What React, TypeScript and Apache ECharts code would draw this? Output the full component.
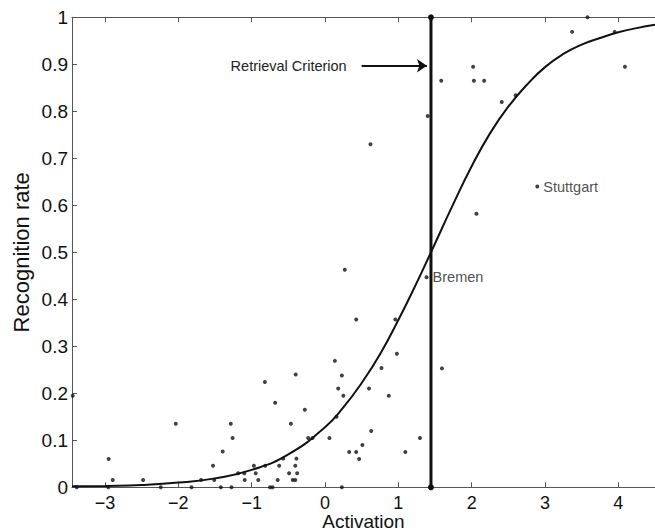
import React, { useEffect, useRef } from "react";
import * as echarts from "echarts";

const FONT = "'Liberation Sans', Arial, Helvetica, sans-serif";

// Scatter observations [activation, recognition rate]
const points: [number, number][] = [
  [3.58, 1.0], [3.37, 0.969], [3.95, 0.969], [2.02, 0.895], [4.09, 0.895],
  [1.585, 0.865], [2.03, 0.865], [2.17, 0.865], [2.41, 0.82], [2.6, 0.834],
  [1.4, 0.79], [0.62, 0.73], [2.065, 0.582], [0.27, 0.463],
  [0.425, 0.357], [0.96, 0.357], [0.98, 0.284], [0.135, 0.269], [1.595, 0.253],
  [0.77, 0.254], [0.23, 0.238], [0.18, 0.21], [0.6, 0.21], [0.25, 0.195],
  [0.87, 0.195], [0.157, 0.15], [0.63, 0.12], [0.06, 0.105], [1.295, 0.105],
  [0.51, 0.09], [0.33, 0.075], [0.425, 0.075], [1.095, 0.075], [0.465, 0.06],
  [0.23, 0.0],
  [-1.527, 0.046], [-1.51, 0.0155], [-1.42, 0.0], [-1.395, 0.076], [-1.285, 0.135],
  [-1.26, 0.105], [-1.275, 0.0], [-1.185, 0.03], [-1.1, 0.03], [-1.095, 0.0155],
  [-0.97, 0.046], [-0.945, 0.03], [-0.91, 0.0155], [-0.82, 0.224], [-0.815, 0.046],
  [-0.75, 0.0], [-0.715, 0.0], [-0.68, 0.18], [-0.645, 0.0155], [-0.625, 0.046],
  [-0.57, 0.061], [-0.49, 0.03], [-0.465, 0.135], [-0.44, 0.0155], [-0.405, 0.0155],
  [-0.405, 0.046], [-0.39, 0.061], [-0.38, 0.03], [-0.4, 0.24], [-0.275, 0.165],
  [-0.23, 0.105], [-0.17, 0.105],
  [-3.44, 0.195], [-2.95, 0.06], [-2.895, 0.0155], [-2.955, 0.0], [-3.385, 0.0],
  [-2.48, 0.0155], [-2.24, 0.0], [-2.035, 0.135], [-1.82, 0.0], [-1.69, 0.0155],
];

// Named points
const labeledNames = ["Bremen", "Stuttgart"];
const labeledX = [1.385, 2.895];
const labeledY = [0.447, 0.64];

// Fitted curve
const curveX = [-3.45, -3, -2.5, -2, -1.5, -1, -0.5, 0, 0.25, 0.5, 0.75, 1, 1.25, 1.445,
  1.75, 2, 2.25, 2.5, 2.75, 3, 3.25, 3.5, 3.75, 4, 4.25, 4.5];
const curveY = [0.002, 0.003, 0.005, 0.01, 0.019, 0.037, 0.07, 0.128, 0.17, 0.222, 0.283,
  0.356, 0.435, 0.5, 0.603, 0.683, 0.753, 0.81, 0.856, 0.894, 0.922, 0.942, 0.956, 0.968,
  0.977, 0.984];

// Retrieval criterion
const criterion = 1.445;
const arrowStartX = 0.5;
const arrowEndX = 1.39;
const arrowY = 0.897;

const X_MIN = -3.45;
const X_MAX = 4.5;

export default function App() {
  const ref = useRef<HTMLDivElement>(null);
  useEffect(() => {
    if (!ref.current) return;
    const chart = echarts.init(ref.current, undefined, { renderer: "svg" });
    const axisColor = "#555";
    const option: any = {
      animation: false,
      backgroundColor: "#fff",
      textStyle: { fontFamily: FONT },
      grid: {
        left: 72,
        top: 17.3,
        right: 0,
        bottom: 44.7,
        containLabel: false,
        outerBoundsMode: "none",
      },
      xAxis: [
        {
          type: "value",
          min: X_MIN,
          max: X_MAX,
          splitNumber: 8,
          position: "bottom",
          name: "Activation",
          nameLocation: "middle",
          nameGap: 25,
          nameMoveOverlap: false,
          nameTextStyle: { fontSize: 19, lineHeight: 19, color: "#111", fontFamily: FONT },
          axisLine: { show: true, onZero: false, lineStyle: { color: axisColor, width: 1 } },
          axisTick: { show: true, inside: true, length: 5, lineStyle: { color: axisColor } },
          axisLabel: {
            fontSize: 18,
            lineHeight: 18,
            color: "#111",
            margin: 7,
            fontFamily: FONT,
            showMinLabel: false,
            showMaxLabel: false,
            formatter: (v: number) => (v < 0 ? "\u2212" + Math.abs(v) : String(v)),
          },
          splitLine: { show: false },
        },
        {
          type: "value",
          min: X_MIN,
          max: X_MAX,
          splitNumber: 8,
          position: "top",
          axisLine: { show: true, onZero: false, lineStyle: { color: axisColor, width: 1 } },
          axisTick: { show: true, inside: true, length: 5, lineStyle: { color: axisColor } },
          axisLabel: { show: false },
          splitLine: { show: false },
        },
      ],
      yAxis: {
        type: "value",
        min: 0,
        max: 1,
        interval: 0.1,
        name: "Recognition rate",
        nameLocation: "middle",
        nameGap: 40,
        nameMoveOverlap: false,
        nameTextStyle: { fontSize: 22, color: "#111", fontFamily: FONT },
        axisLine: { show: true, onZero: false, lineStyle: { color: axisColor, width: 1 } },
        axisTick: { show: true, inside: true, length: 5, lineStyle: { color: axisColor } },
        axisLabel: { fontSize: 19, color: "#111", margin: 4, fontFamily: FONT },
        splitLine: { show: false },
      },
      series: [
        {
          type: "line",
          data: curveX.map((x, i) => [x, curveY[i]]),
          smooth: true,
          showSymbol: false,
          symbol: "none",
          lineStyle: { color: "#111", width: 2 },
          silent: true,
          z: 3,
          markLine: {
            silent: true,
            symbol: ["none", "arrow"],
            symbolSize: 10,
            lineStyle: { color: "#111", width: 2, type: "solid" },
            label: {
              show: true,
              position: "start",
              distance: 15,
              formatter: "Retrieval Criterion",
              fontSize: 14.5,
              color: "#222",
              fontFamily: FONT,
            },
            data: [[{ coord: [arrowStartX, arrowY] }, { coord: [arrowEndX, arrowY] }]],
          },
        },
        {
          type: "line",
          data: [[criterion, 0], [criterion, 1]],
          symbol: "circle",
          symbolSize: 6,
          showSymbol: true,
          lineStyle: { color: "#111", width: 3 },
          itemStyle: { color: "#111" },
          silent: true,
          z: 4,
        },
        {
          type: "scatter",
          data: points,
          symbol: "circle",
          symbolSize: 4,
          itemStyle: { color: "#111" },
          silent: true,
          z: 5,
        },
        {
          type: "scatter",
          data: labeledNames.map((n, i) => ({ name: n, value: [labeledX[i], labeledY[i]] })),
          symbol: "circle",
          symbolSize: 4,
          itemStyle: { color: "#111" },
          label: {
            show: true,
            position: "right",
            distance: 4,
            formatter: (p: any) => p.name,
            fontSize: 14.5,
            color: "#222",
            fontFamily: FONT,
          },
          silent: true,
          z: 5,
        },
      ],
    };
    chart.setOption(option);
    return () => chart.dispose();
  }, []);
  return (
    <div
      ref={ref}
      style={{ position: "fixed", left: 0, top: 0, width: 655, height: 532, background: "#fff" }}
    />
  );
}
